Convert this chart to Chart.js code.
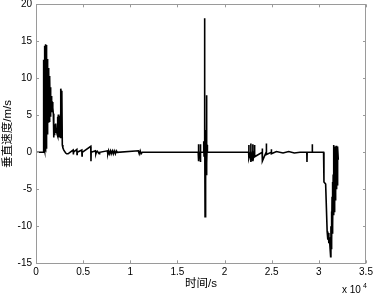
<!DOCTYPE html>
<html>
<head>
<meta charset="utf-8">
<script src="https://cdn.jsdelivr.net/npm/chart.js@4/dist/chart.umd.min.js"></script>
<style>
html,body{margin:0;padding:0;background:#fff;}
#wrap{width:373px;height:294px;}
</style>
</head>
<body>
<div id="wrap"><canvas id="c" width="373" height="294"></canvas></div>
<script>
// time in seconds
const timeS = [
  0, 760, 780, 800, 820, 845, 870, 895, 920, 945, 970, 995, 1020, 1045, 1070, 1095, 1120, 1145, 1170, 1195,
  1220, 1245, 1270, 1300, 1330, 1360, 1390, 1420, 1450, 1480, 1510, 1540, 1570, 1600, 1630, 1660, 1690, 1720, 1760, 1800,
  1840, 1870, 1900, 1930, 1960, 1990, 2030, 2070, 2110, 2150, 2190, 2230, 2280, 2320, 2370, 2420, 2480, 2560, 2600, 2650,
  2700, 2740, 2790, 2850, 2950, 3050, 3150, 3250, 3400, 3600,
  3940, 3960, 3980, 4330, 4350, 4370, 4860, 4880, 4900, 5810, 5830, 5850, 6300, 6350, 6400, 6500, 6700, 6750,
  7560, 7620, 7700, 7780, 7900, 7980, 8100, 8200, 8300, 8420, 8520, 8620,
  10850, 10950, 11050, 11150, 11270,
  17200, 17230, 17260, 17290, 17400, 17420, 17450, 17480, 17750, 17790, 17820, 17870, 17890, 17910, 17930, 17950, 17970, 17990,
  18010, 18030, 18050, 18070, 18090, 18110, 18130, 18150, 18180,
  22550, 22570, 22590, 22760, 22780, 22800, 22970, 22990, 23010, 23160, 23180, 23200,
  23980, 24000, 24020, 24410, 24430, 24450, 24940, 24960, 24980,
  25500, 26200, 26800, 27400, 28000,
  28720, 28740, 28760, 29280, 29300, 29320,
  30500, 30540, 30720, 30880, 30950, 31000, 31060, 31120, 31180, 31250, 31280, 31310, 31340, 31370, 31400, 31430, 31460, 31490,
  31520, 31550, 31580, 31600, 31630, 31660, 31690, 31720, 31750, 31780, 31810, 31840, 31870, 31900, 31930, 31960, 31990, 32020, 32060
];
// vertical speed in m/s
const speed = [
  0, 0, 0, 12.5, 0.3, 11.8, 0.5, 13.9, 0.2, 14.4, 0.4, 14.6, 0.3, 14.1, 0.6, 14.5, 1.0, 13.2, 2.5, 12.6,
  3.6, 11.9, 3.8, 11.4, 4.0, 11.0, 4.2, 10.3, 4.6, 10.0, 4.9, 8.8, 5.2, 7.6, 5.4, 7.2, 6.9, 6.8, 6.5, 6.0,
  5.2, 2.0, 3.5, 2.4, 3.8, 2.9, 3.6, 2.6, 3.9, 2.8, 3.2, 2.5, 4.8, 2.2, 5.1, 3.0, 2.0, 4.9, 1.9, 8.6,
  7.8, 8.3, 1.0, 0.6, 0.3, 0.1, -0.1, -0.2, -0.2, 0,
  0.3, -0.3, 0, 0.4, -0.3, 0, 0.3, -0.5, 0, 0.8, -1.2, 0, 0.2, -0.2, 0, 0.15, -0.2, 0,
  0.2, -0.2, 0.2, -0.2, 0.2, -0.2, 0.2, -0.2, 0.2, -0.2, 0.2, 0,
  0.2, -0.2, 0.2, -0.2, 0,
  0, 1.1, -1.2, 0, 0, 1.1, -1.3, 0, 0, 1.5, -0.5, 18.1, -0.5, 5.0, -8.7, 2.0, -3.5, 3.0,
  -3.7, 2.5, -3.0, 7.7, -2.5, 2.2, -1.5, 1.0, 0,
  0, 1.0, -0.8, 0, 1.2, -1.3, 0, 1.1, -1.2, 0, 1.0, -0.6,
  0, 0.5, -1.2, 0, 1.2, -0.3, 0, 0.4, -0.2,
  0.1, -0.1, 0.1, -0.1, 0,
  0, -1.3, 0, 0, 1.1, 0,
  0, -4.0, -4.3, -10.7, -11.8, -10.9, -12.3, -11.5, -12.8, -14.1, -10.0, -13.0, -8.0, -12.0, -6.0, -11.0, -4.0, -10.0,
  -3.0, -8.5, -1.0, 1.0, -8.0, 0.8, -7.0, 0.5, -6.5, 0.7, -5.5, 0.9, -5.0, 0.4, -4.0, 0.8, -4.5, 0.6, -1.0
];
const xTicks = [0, 5000, 10000, 15000, 20000, 25000, 30000, 35000];
const yTicks = [-15, -10, -5, 0, 5, 10, 15, 20];
const xLabel = '时间/s';
const yLabel = '垂直速度/m/s';
const xExponent = '4';

const points = timeS.map((t, i) => ({x: t, y: speed[i]}));

const boxPlugin = {
  id: 'box',
  afterDraw(chart) {
    const ctx = chart.ctx;
    const a = chart.chartArea;
    const xs = chart.scales.x, ys = chart.scales.y;
    ctx.save();
    ctx.strokeStyle = '#9a9a9a';
    ctx.lineWidth = 1;
    ctx.strokeRect(Math.round(a.left) + 0.5, Math.round(a.top) + 0.5,
      Math.round(a.right - a.left) - 1, Math.round(a.bottom - a.top));
    const tl = 3;
    ctx.beginPath();
    xTicks.forEach(v => {
      const px = Math.round(xs.getPixelForValue(v)) + 0.5;
      ctx.moveTo(px, a.bottom); ctx.lineTo(px, a.bottom - tl);
      ctx.moveTo(px, a.top); ctx.lineTo(px, a.top + tl);
    });
    yTicks.forEach(v => {
      const py = Math.round(ys.getPixelForValue(v)) + 0.5;
      ctx.moveTo(a.left, py); ctx.lineTo(a.left + tl, py);
      ctx.moveTo(a.right, py); ctx.lineTo(a.right - tl, py);
    });
    ctx.stroke();
    ctx.fillStyle = '#000';
    ctx.font = '10px "Liberation Sans", Arial, sans-serif';
    ctx.textBaseline = 'alphabetic';
    ctx.textAlign = 'left';
    ctx.fillText('x 10', 342, 293);
    ctx.font = '7px "Liberation Sans", Arial, sans-serif';
    ctx.fillText(xExponent, 363, 288);
    ctx.restore();
  }
};

new Chart(document.getElementById('c'), {
  type: 'line',
  data: {
    datasets: [{
      data: points,
      borderColor: '#000',
      borderWidth: 1.6,
      pointRadius: 0,
      tension: 0,
      fill: false
    }]
  },
  options: {
    responsive: false,
    animation: false,
    events: [],
    layout: {padding: {top: 4.3, right: 7, left: 0, bottom: 0}},
    plugins: {legend: {display: false}, tooltip: {enabled: false}},
    scales: {
      x: {
        type: 'linear',
        min: 0, max: 35000,
        afterFit(s) { s.height = 30.7; s.paddingLeft = 0; s.paddingRight = 0; },
        afterBuildTicks(s) { s.ticks = xTicks.map(v => ({value: v})); },
        grid: {display: false, drawTicks: false},
        border: {display: false},
        ticks: {
          padding: 3,
          color: '#000',
          maxRotation: 0,
          autoSkip: false,
          font: {family: '"Liberation Sans", Arial, sans-serif', size: 10},
          callback: v => String(v / 10000)
        },
        title: {
          display: true,
          text: xLabel,
          color: '#000',
          padding: {top: 0, bottom: 3},
          font: {family: '"Liberation Sans", "Noto Sans CJK SC", sans-serif', size: 11.5}
        }
      },
      y: {
        min: -15, max: 20,
        afterFit(s) { s.width = 36; s.paddingTop = 0; s.paddingBottom = 0; },
        afterBuildTicks(s) { s.ticks = yTicks.map(v => ({value: v})); },
        grid: {display: false, drawTicks: false},
        border: {display: false},
        ticks: {
          padding: 4,
          color: '#000',
          autoSkip: false,
          font: {family: '"Liberation Sans", Arial, sans-serif', size: 10},
          callback: v => String(v)
        },
        title: {
          display: true,
          text: yLabel,
          color: '#000',
          padding: {top: 1, bottom: 0},
          font: {family: '"Liberation Sans", "Noto Sans CJK SC", sans-serif', size: 11.5}
        }
      }
    }
  },
  plugins: [boxPlugin]
});
</script>
</body>
</html>
